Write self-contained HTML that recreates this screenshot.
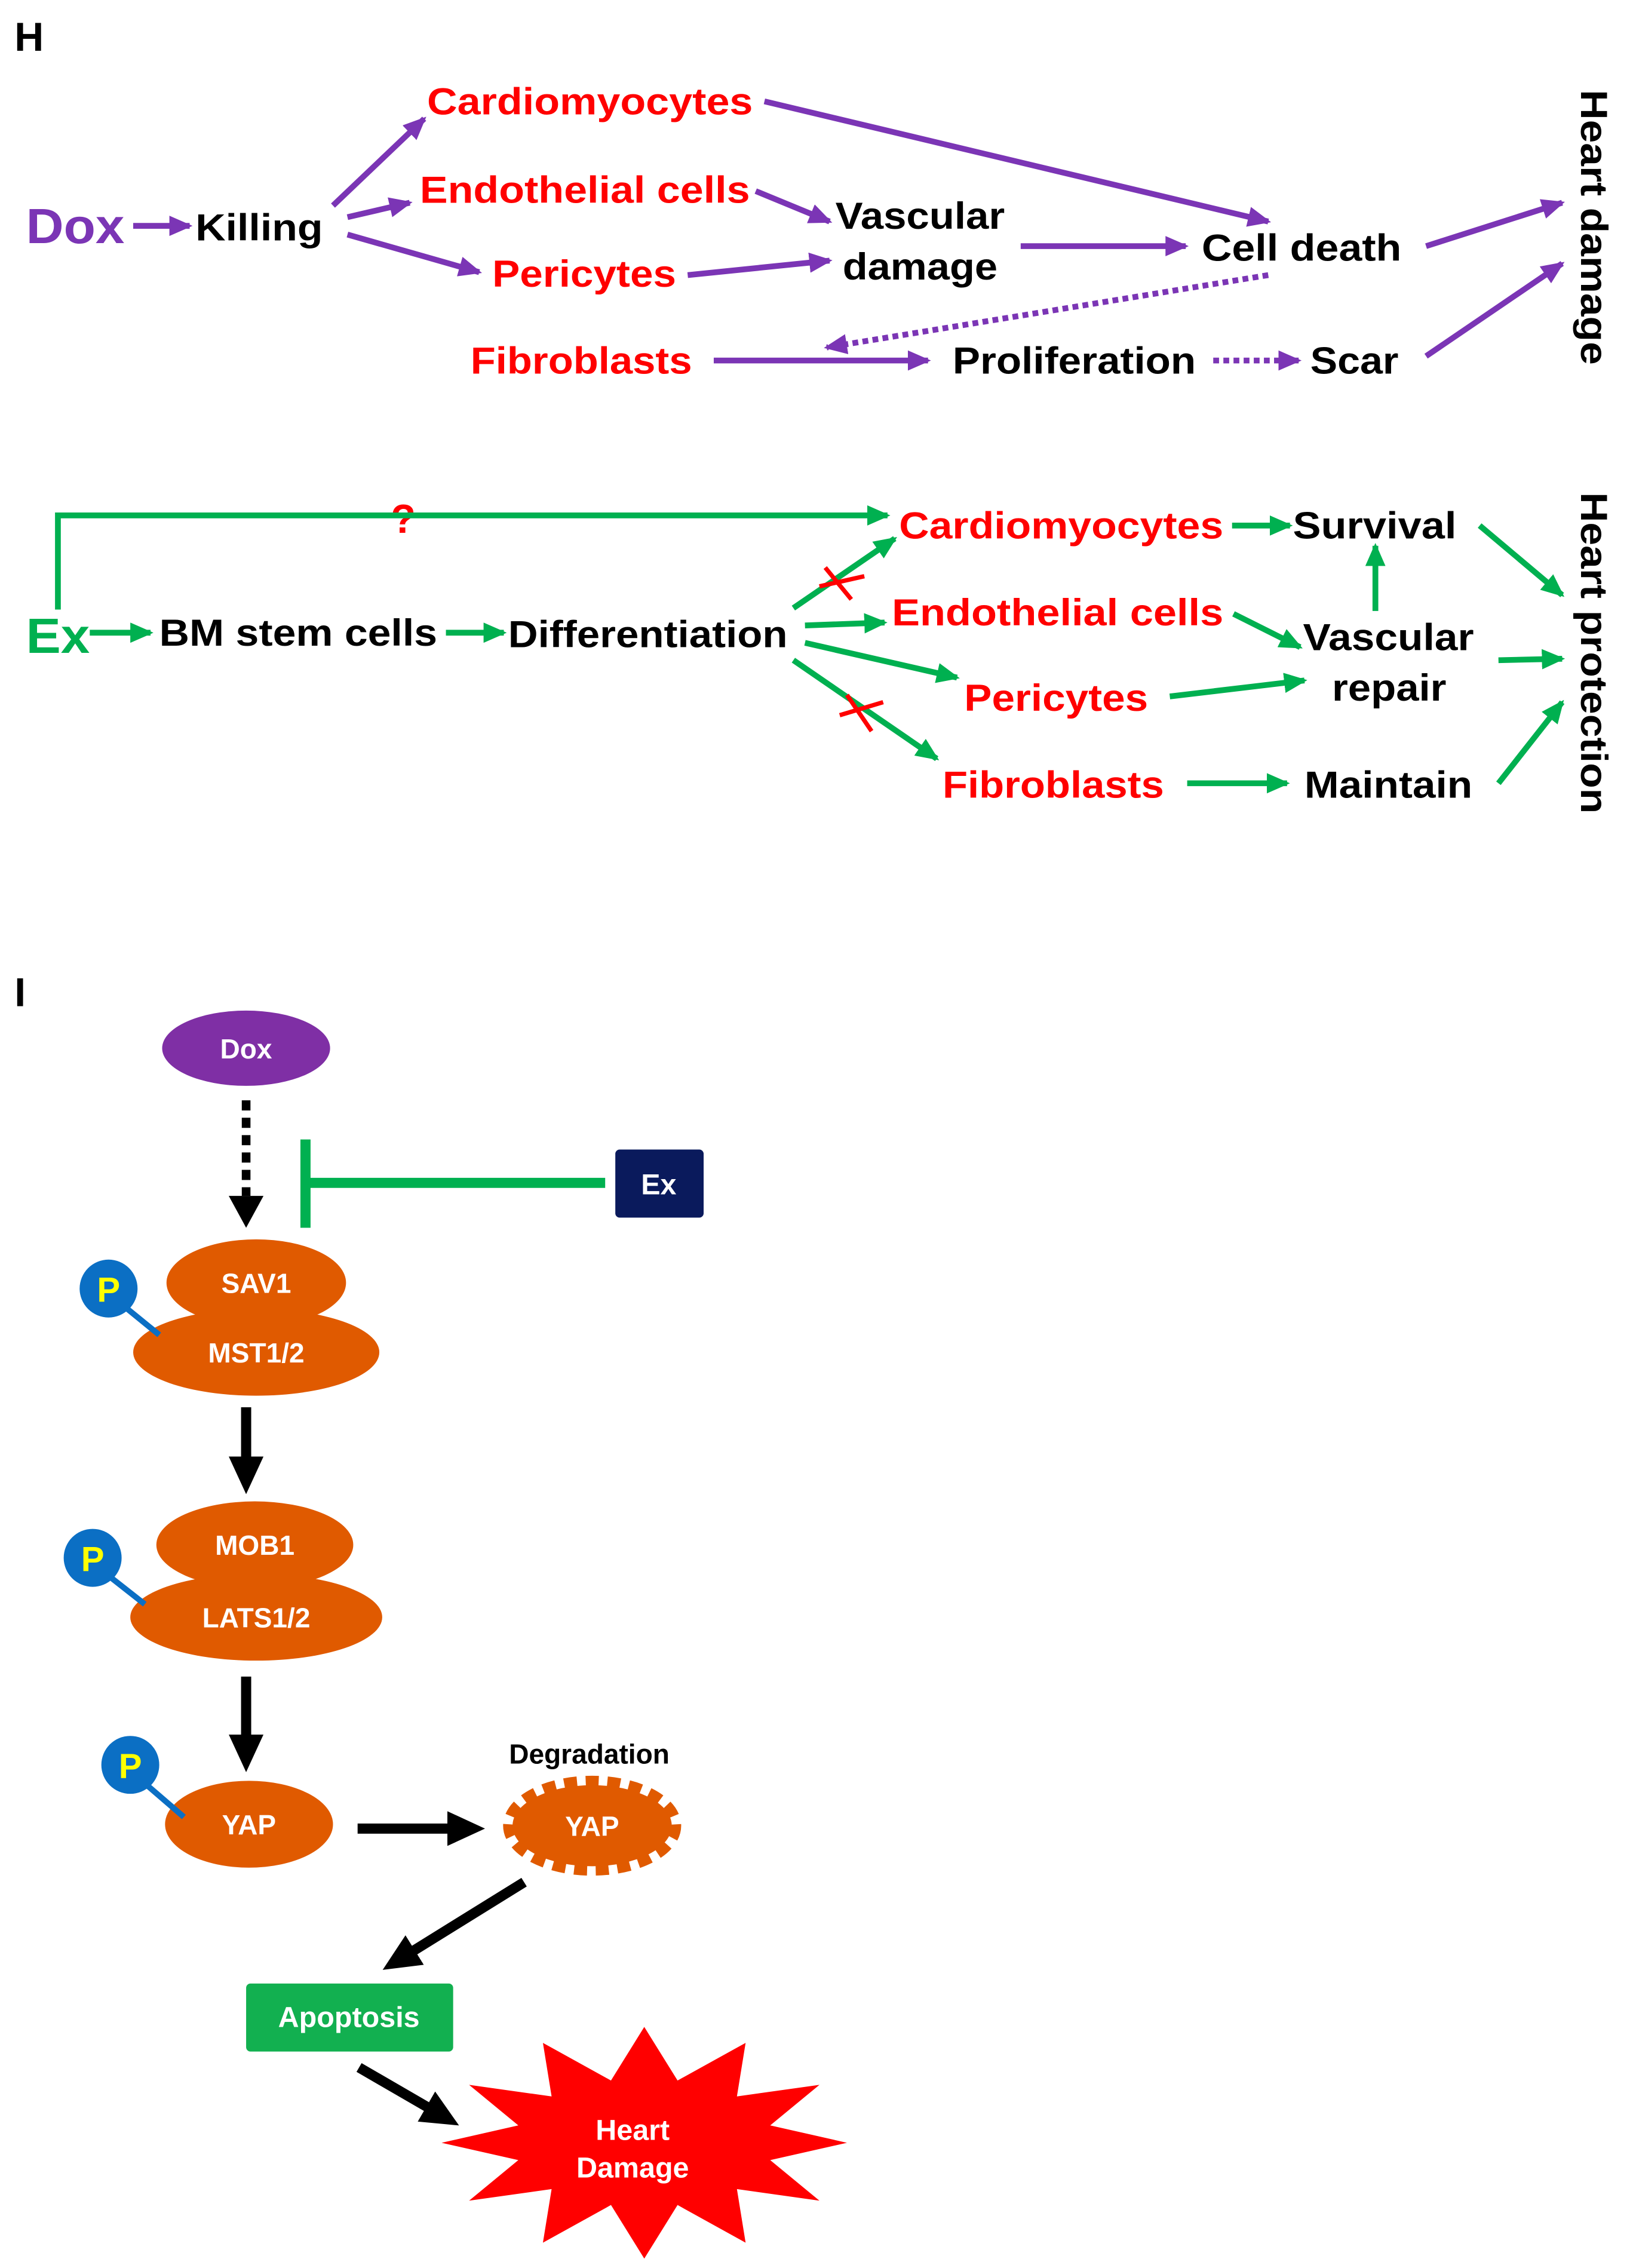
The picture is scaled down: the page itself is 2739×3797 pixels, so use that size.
<!DOCTYPE html>
<html><head><meta charset="utf-8"><style>
html,body{margin:0;padding:0;background:#fff;}
svg{display:block;}
text{font-family:"Liberation Sans",Arial,sans-serif;font-weight:bold;}
</style></head><body>
<svg width="2739" height="3797" viewBox="0 0 1130 1566.5" preserveAspectRatio="none" xmlns="http://www.w3.org/2000/svg">
<defs>
<marker id="ap" markerUnits="userSpaceOnUse" markerWidth="16" markerHeight="14" refX="14" refY="7" orient="auto"><path d="M0,0 L16,7 L0,14 Z" fill="#7b35b5"/></marker>
<marker id="ag" markerUnits="userSpaceOnUse" markerWidth="16" markerHeight="14" refX="14" refY="7" orient="auto"><path d="M0,0 L16,7 L0,14 Z" fill="#00b050"/></marker>
<marker id="ab" markerUnits="userSpaceOnUse" markerWidth="26" markerHeight="24" refX="4" refY="12" orient="auto"><path d="M0,0 L26,12 L0,24 Z" fill="#000"/></marker>
</defs>
<rect width="1130" height="1566.5" fill="#fff"/>

<!-- H -->
<text x="10" y="35" font-size="28">H</text>
<g font-size="26">
<text x="18" y="168" font-size="34" fill="#7b35b5" textLength="68" lengthAdjust="spacingAndGlyphs">Dox</text>
<text x="135" y="166" fill="#000" textLength="88" lengthAdjust="spacingAndGlyphs">Killing</text>
<text x="295" y="79" fill="#f00" textLength="225" lengthAdjust="spacingAndGlyphs">Cardiomyocytes</text>
<text x="290" y="140" fill="#f00" textLength="228" lengthAdjust="spacingAndGlyphs">Endothelial  cells</text>
<text x="340" y="198" fill="#f00" textLength="127" lengthAdjust="spacingAndGlyphs">Pericytes</text>
<text x="325" y="258" fill="#f00" textLength="153" lengthAdjust="spacingAndGlyphs">Fibroblasts</text>
<text x="577" y="158" fill="#000" textLength="117" lengthAdjust="spacingAndGlyphs">Vascular</text>
<text x="582" y="193" fill="#000" textLength="107" lengthAdjust="spacingAndGlyphs">damage</text>
<text x="830" y="180" fill="#000" textLength="138" lengthAdjust="spacingAndGlyphs">Cell death</text>
<text x="658" y="258" fill="#000" textLength="168" lengthAdjust="spacingAndGlyphs">Proliferation</text>
<text x="905" y="258" fill="#000" textLength="61" lengthAdjust="spacingAndGlyphs">Scar</text>
<text transform="translate(1092,62) rotate(90)" x="0" y="0" fill="#000" textLength="190" lengthAdjust="spacingAndGlyphs">Heart  damage</text>
</g>
<g stroke="#7b35b5" stroke-width="4" fill="none" marker-end="url(#ap)">
<line x1="92" y1="156" x2="131" y2="156"/>
<line x1="230" y1="142" x2="293" y2="82"/>
<line x1="240" y1="150" x2="283" y2="140"/>
<line x1="240" y1="162" x2="331" y2="188"/>
<line x1="528" y1="70" x2="876" y2="153"/>
<line x1="522" y1="132" x2="573" y2="153"/>
<line x1="475" y1="190" x2="573" y2="180"/>
<line x1="705" y1="170" x2="819" y2="170"/>
<line x1="985" y1="170" x2="1079" y2="140"/>
<line x1="493" y1="249" x2="641" y2="249"/>
<line x1="876" y1="190" x2="571" y2="240" stroke-dasharray="4 3"/>
<line x1="838" y1="249" x2="897" y2="249" stroke-dasharray="4 3"/>
<line x1="985" y1="246" x2="1079" y2="182"/>
</g>

<!-- Green section -->
<g font-size="26">
<text x="18" y="451" font-size="34" fill="#00b050" textLength="44" lengthAdjust="spacingAndGlyphs">Ex</text>
<text x="270" y="368" font-size="28" fill="#f00">?</text>
<text x="110" y="446" fill="#000" textLength="192" lengthAdjust="spacingAndGlyphs">BM stem cells</text>
<text x="351" y="447" fill="#000" textLength="193" lengthAdjust="spacingAndGlyphs">Differentiation</text>
<text x="621" y="372" fill="#f00" textLength="224" lengthAdjust="spacingAndGlyphs">Cardiomyocytes</text>
<text x="893" y="372" fill="#000" textLength="113" lengthAdjust="spacingAndGlyphs">Survival</text>
<text x="616" y="432" fill="#f00" textLength="229" lengthAdjust="spacingAndGlyphs">Endothelial  cells</text>
<text x="900" y="449" fill="#000" textLength="118" lengthAdjust="spacingAndGlyphs">Vascular</text>
<text x="920" y="484" fill="#000" textLength="79" lengthAdjust="spacingAndGlyphs">repair</text>
<text x="666" y="491" fill="#f00" textLength="127" lengthAdjust="spacingAndGlyphs">Pericytes</text>
<text x="651" y="551" fill="#f00" textLength="153" lengthAdjust="spacingAndGlyphs">Fibroblasts</text>
<text x="901" y="551" fill="#000" textLength="116" lengthAdjust="spacingAndGlyphs">Maintain</text>
<text transform="translate(1092,340) rotate(90)" x="0" y="0" fill="#000" textLength="222" lengthAdjust="spacingAndGlyphs">Heart  protection</text>
</g>
<g stroke="#00b050" stroke-width="4" fill="none" marker-end="url(#ag)">
<polyline points="40,421 40,356 613,356"/>
<line x1="62" y1="437" x2="104" y2="437"/>
<line x1="308" y1="437" x2="348" y2="437"/>
<line x1="548" y1="420" x2="618" y2="372"/>
<line x1="556" y1="432" x2="611" y2="430"/>
<line x1="556" y1="444" x2="661" y2="468"/>
<line x1="548" y1="456" x2="647" y2="524"/>
<line x1="851" y1="363" x2="891" y2="363"/>
<line x1="852" y1="424" x2="898" y2="447"/>
<line x1="808" y1="481" x2="901" y2="470"/>
<line x1="950" y1="422" x2="950" y2="377"/>
<line x1="820" y1="541" x2="889" y2="541"/>
<line x1="1022" y1="363" x2="1079" y2="411"/>
<line x1="1035" y1="456" x2="1079" y2="455"/>
<line x1="1035" y1="541" x2="1079" y2="485"/>
</g>
<g stroke="#f00" stroke-width="3">
<line x1="570" y1="392" x2="588" y2="414"/><line x1="566" y1="405" x2="597" y2="398"/>
<line x1="585" y1="480" x2="602" y2="505"/><line x1="580" y1="494" x2="610" y2="485"/>
</g>

<!-- I -->
<text x="10" y="695" font-size="28">I</text>
<ellipse cx="170" cy="724" rx="58" ry="26" fill="#7f2fa5"/>
<text x="170" y="731" font-size="19" fill="#fff" text-anchor="middle">Dox</text>
<line x1="170" y1="760" x2="170" y2="826" stroke="#000" stroke-width="6" stroke-dasharray="7 5"/>
<path d="M158,826 L182,826 L170,848 Z" fill="#000"/>
<line x1="211" y1="787" x2="211" y2="848" stroke="#00b050" stroke-width="7"/>
<line x1="211" y1="817" x2="418" y2="817" stroke="#00b050" stroke-width="7"/>
<rect x="425" y="794" width="61" height="47" rx="3" fill="#0a1a5c"/>
<text x="455" y="825" font-size="20" fill="#fff" text-anchor="middle">Ex</text>

<ellipse cx="177" cy="934" rx="85" ry="30" fill="#e05a00"/>
<ellipse cx="177" cy="886" rx="62" ry="30" fill="#e05a00"/>
<text x="177" y="893" font-size="19" fill="#fff" text-anchor="middle">SAV1</text>
<text x="177" y="941" font-size="19" fill="#fff" text-anchor="middle">MST1/2</text>
<line x1="83" y1="900" x2="110" y2="922" stroke="#0b6fc4" stroke-width="4"/>
<circle cx="75" cy="890" r="20" fill="#0b6fc4"/>
<text x="75" y="899" font-size="24" fill="#ff0" text-anchor="middle">P</text>

<line x1="170" y1="972" x2="170" y2="1010" stroke="#000" stroke-width="7" marker-end="url(#ab)"/>

<ellipse cx="177" cy="1117" rx="87" ry="30" fill="#e05a00"/>
<ellipse cx="176" cy="1067" rx="68" ry="30" fill="#e05a00"/>
<text x="176" y="1074" font-size="19" fill="#fff" text-anchor="middle">MOB1</text>
<text x="177" y="1124" font-size="19" fill="#fff" text-anchor="middle">LATS1/2</text>
<line x1="72" y1="1086" x2="100" y2="1108" stroke="#0b6fc4" stroke-width="4"/>
<circle cx="64" cy="1076" r="20" fill="#0b6fc4"/>
<text x="64" y="1085" font-size="24" fill="#ff0" text-anchor="middle">P</text>

<line x1="170" y1="1158" x2="170" y2="1202" stroke="#000" stroke-width="7" marker-end="url(#ab)"/>

<ellipse cx="172" cy="1260" rx="58" ry="30" fill="#e05a00"/>
<text x="172" y="1267" font-size="19" fill="#fff" text-anchor="middle">YAP</text>
<line x1="98" y1="1230" x2="127" y2="1255" stroke="#0b6fc4" stroke-width="4"/>
<circle cx="90" cy="1219" r="20" fill="#0b6fc4"/>
<text x="90" y="1228" font-size="24" fill="#ff0" text-anchor="middle">P</text>

<line x1="247" y1="1263" x2="313" y2="1263" stroke="#000" stroke-width="7" marker-end="url(#ab)"/>
<text x="407" y="1218" font-size="19" fill="#000" text-anchor="middle">Degradation</text>
<ellipse cx="409" cy="1261" rx="55" ry="28" fill="#e05a00"/>
<ellipse cx="409" cy="1261" rx="58" ry="31" fill="none" stroke="#e05a00" stroke-width="7" stroke-dasharray="9 6"/>
<text x="409" y="1268" font-size="19" fill="#fff" text-anchor="middle">YAP</text>

<line x1="362" y1="1300" x2="283" y2="1349" stroke="#000" stroke-width="7" marker-end="url(#ab)"/>
<rect x="170" y="1370" width="143" height="47" rx="3" fill="#12b050"/>
<text x="241" y="1400" font-size="20" fill="#fff" text-anchor="middle">Apoptosis</text>
<line x1="248" y1="1428" x2="298" y2="1457" stroke="#000" stroke-width="7" marker-end="url(#ab)"/>

<polygon fill="#f00" points="585,1480 532,1492 566,1520 509,1512 515,1549 468,1523 445,1560 422,1523 375,1549 381,1512 324,1520 358,1492 305,1480 358,1468 324,1440 381,1448 375,1411 422,1437 445,1400 468,1437 515,1411 509,1448 566,1440 532,1468"/>
<text x="437" y="1478" font-size="20" fill="#fff" text-anchor="middle">Heart</text>
<text x="437" y="1504" font-size="20" fill="#fff" text-anchor="middle">Damage</text>
</svg>
</body></html>
